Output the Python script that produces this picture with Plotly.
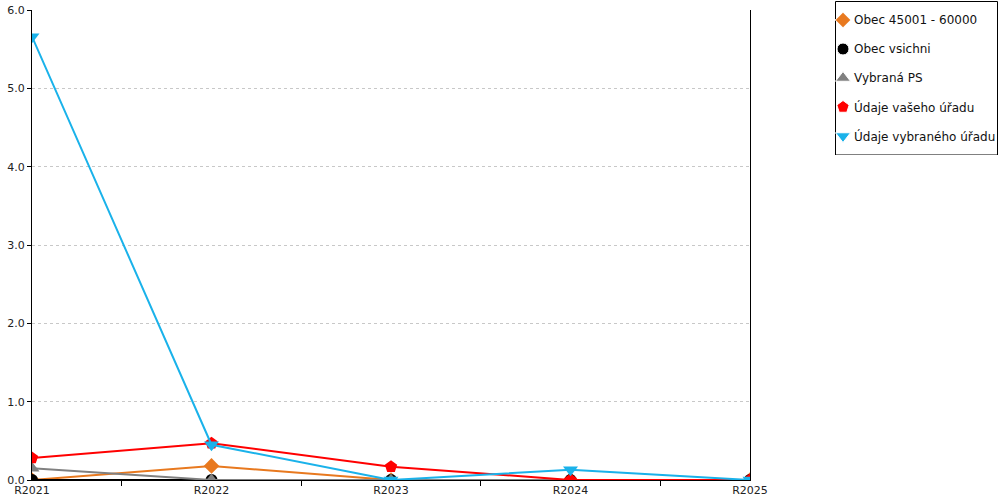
import plotly.graph_objects as go

categories = ["R2021", "R2022", "R2023", "R2024", "R2025"]
obec_45001_60000 = [0.0, 0.18, 0.0, 0.0, 0.0]
obec_vsichni = [0.0, 0.0, 0.0, 0.0, 0.0]
vybrana_ps = [0.15, 0.0, 0.0, 0.0, 0.0]
udaje_vaseho = [0.28, 0.47, 0.17, 0.0, 0.0]
udaje_vybraneho = [5.66, 0.45, 0.0, 0.13, 0.0]

series_names = ["Obec 45001 - 60000", "Obec vsichni", "Vybraná PS",
                "Údaje vašeho úřadu", "Údaje vybraného úřadu"]
series_values = [obec_45001_60000, obec_vsichni, vybrana_ps, udaje_vaseho, udaje_vybraneho]
colors = ["#E8791F", "#000000", "#808080", "#FF0000", "#1AB2EA"]
symbols = ["diamond", "circle", "triangle-up", "pentagon", "triangle-down"]
sizes = [12, 12, 13, 13, 13]

W, H = 1000, 500
L, R, T, B = 32, 0, 0, 20
pw, ph = W - L - R, H - T - B  # 968 x 480

# main plot area in pixels: x 32..750, y 10..480
main_x0, main_x1, main_y0, main_y1 = 32, 750, 10, 480
# legend box in pixels
leg_left, leg_right, leg_top, leg_bottom = 835, 998, 1, 155
row_y = [20, 49, 78, 107, 136]


def dx(x):
    return (x - L) / pw


def dy(y):
    return (H - B - y) / ph


fig = go.Figure()
for name, vals, color, sym, size in zip(series_names, series_values, colors, symbols, sizes):
    fig.add_trace(go.Scatter(
        x=categories, y=vals, name=name, mode="lines+markers",
        line=dict(color=color, width=2),
        marker=dict(color=color, symbol=sym, size=size),
        showlegend=False, xaxis="x", yaxis="y",
    ))

# custom legend (drawn on an auxiliary pixel-unit axis pair)
fig.add_shape(type="rect", xref="x2", yref="y2",
              x0=leg_left + 0.5, x1=leg_right - 0.5, y0=leg_bottom, y1=leg_top + 0.5,
              line=dict(color="#000000", width=1), fillcolor="white", layer="below")
fig.add_trace(go.Scatter(
    x=[843] * len(series_names), y=row_y,
    xaxis="x2", yaxis="y2", mode="markers", showlegend=False, cliponaxis=False,
    marker=dict(color=colors, symbol=symbols, size=sizes, opacity=1),
    hoverinfo="skip",
))
for name, yy in zip(series_names, row_y):
    fig.add_annotation(xref="x2", yref="y2", x=852, y=yy,
                       xanchor="left", yanchor="middle", showarrow=False,
                       text=name, font=dict(size=12, color="#111111"))

fig.update_layout(
    width=W, height=H,
    margin=dict(l=L, r=R, t=T, b=B, autoexpand=False),
    paper_bgcolor="white", plot_bgcolor="rgba(0,0,0,0)",
    font=dict(family="DejaVu Sans", size=11, color="#222222"),
    showlegend=False,
    hovermode=False,
    xaxis=dict(
        domain=[dx(main_x0), dx(main_x1)], anchor="y",
        type="category", range=[0, 4], automargin=False,
        showline=True, linecolor="#000000", linewidth=1,
        ticks="outside", tickson="boundaries", ticklen=5, tickcolor="#000000",
        showgrid=False, zeroline=False,
    ),
    yaxis=dict(
        domain=[dy(main_y1), dy(main_y0)], anchor="x",
        range=[0, 6], tickvals=[0, 1, 2, 3, 4, 5, 6], automargin=False,
        ticktext=["0.0", "1.0", "2.0", "3.0", "4.0", "5.0", "6.0"],
        showline=True, linecolor="#000000", linewidth=1, mirror=True,
        ticks="outside", ticklen=4, tickcolor="#000000",
        showgrid=True, gridcolor="#C8C8C8", griddash="dot", gridwidth=1,
        zeroline=False,
    ),
    xaxis2=dict(domain=[dx(leg_left), dx(leg_right)], anchor="y2",
                range=[leg_left, leg_right], visible=False, fixedrange=True),
    yaxis2=dict(domain=[dy(leg_bottom), dy(leg_top)], anchor="x2",
                range=[leg_bottom, leg_top], visible=False, fixedrange=True),
)

fig.write_html("out.html", config={"displayModeBar": False, "staticPlot": True},
               post_script="document.body.style.margin='0';document.body.style.padding='0';")
